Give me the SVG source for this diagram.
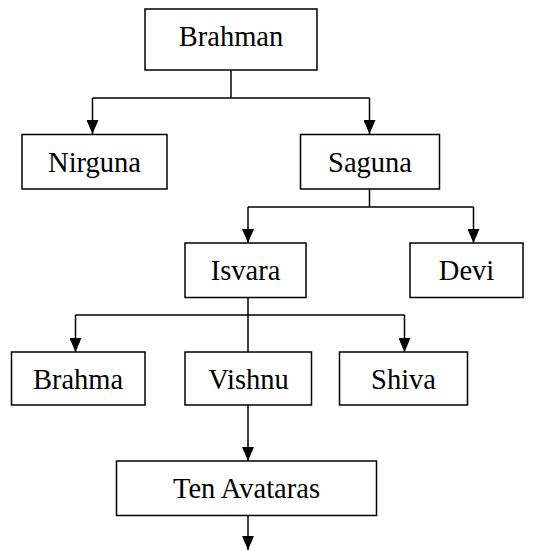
<svg xmlns="http://www.w3.org/2000/svg" width="545" height="550" viewBox="0 0 545 550">
<style>
.box{fill:#fff;stroke:#000;stroke-width:1.5}
.lbl{font-family:"Liberation Serif","Times New Roman",serif;font-size:28.5px;fill:#000;text-anchor:middle}
.ln{fill:none;stroke:#000;stroke-width:1.5}
</style>
<defs>
<marker id="ah" viewBox="0 0 14 12" markerWidth="14" markerHeight="12" refX="14" refY="6" orient="auto" markerUnits="userSpaceOnUse">
<path d="M0,0 L14,6 L0,12 z" fill="#000"/>
</marker>
</defs>
<rect width="545" height="550" fill="#fff"/>
<g id="connectors">
<path class="ln" d="M231,70 V98 M92.5,98 H369.5"/>
<path class="ln" d="M92.5,98 V134" marker-end="url(#ah)"/>
<path class="ln" d="M369.5,98 V134" marker-end="url(#ah)"/>
<path class="ln" d="M369.5,189 V207 M248,207 H473.5"/>
<path class="ln" d="M248,207 V243" marker-end="url(#ah)"/>
<path class="ln" d="M473.5,207 V243" marker-end="url(#ah)"/>
<path class="ln" d="M248,297 V352 M75.5,315 H404.5"/>
<path class="ln" d="M75.5,315 V352" marker-end="url(#ah)"/>
<path class="ln" d="M404.5,315 V352" marker-end="url(#ah)"/>
<path class="ln" d="M248,405 V461" marker-end="url(#ah)"/>
<path class="ln" d="M248,516 V550" marker-end="url(#ah)"/>
</g>
<g id="brahman"><rect class="box" x="145" y="9" width="172" height="61"/><text class="lbl" x="231" y="46">Brahman</text></g>
<g id="nirguna"><rect class="box" x="22" y="134.5" width="145" height="54.5"/><text class="lbl" x="94.5" y="171.5">Nirguna</text></g>
<g id="saguna"><rect class="box" x="300.5" y="134.5" width="139" height="54.5"/><text class="lbl" x="370" y="171.5">Saguna</text></g>
<g id="isvara"><rect class="box" x="185" y="243" width="121" height="54.5"/><text class="lbl" x="245.5" y="279.5">Isvara</text></g>
<g id="devi"><rect class="box" x="410" y="243" width="113" height="54.5"/><text class="lbl" x="466.5" y="279.5">Devi</text></g>
<g id="brahma"><rect class="box" x="11.5" y="352" width="133.5" height="53"/><text class="lbl" x="78" y="388.5">Brahma</text></g>
<g id="vishnu"><rect class="box" x="185" y="352" width="126.5" height="53"/><text class="lbl" x="248.5" y="388.5">Vishnu</text></g>
<g id="shiva"><rect class="box" x="339.5" y="352" width="128" height="53"/><text class="lbl" x="403.5" y="388.5">Shiva</text></g>
<g id="ten-avataras"><rect class="box" x="116.5" y="461" width="260" height="54.5"/><text class="lbl" x="246.5" y="497.5">Ten Avataras</text></g>
</svg>
